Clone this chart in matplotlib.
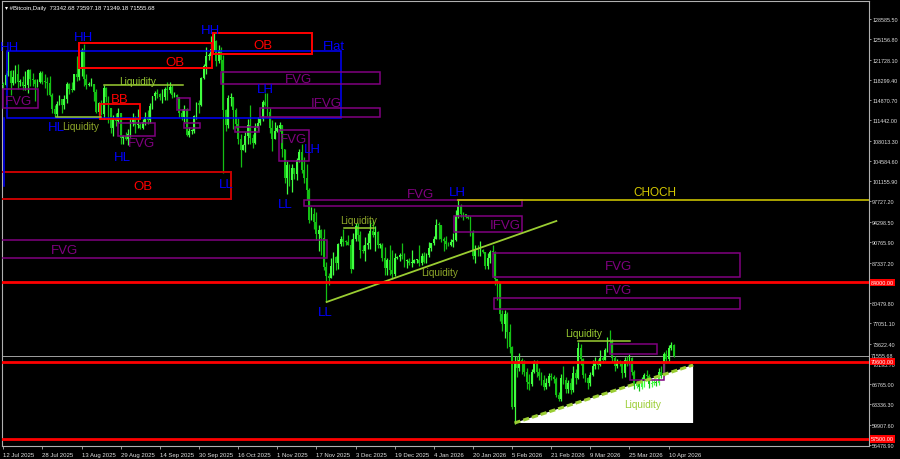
import numpy as np
import pandas as pd
from matplotlib import pyplot as plt
from matplotlib.patches import Rectangle, Polygon
import matplotlib.transforms as mtransforms

plt.rcParams['font.family'] = ['Liberation Sans', 'DejaVu Sans']

# daily bars, thousands of USD, 12 Jul 2025 .. 12 Apr 2026
first_open = 117.5
close_k = [
    117.4, 119.1, 119.8, 117.7, 118.7, 119.3, 117.9, 117.9, 117.3, 117.4, 119.9, 118.5, 118.3, 117.6, 117.9, 119.4, 118.0, 117.9, 117.8, 115.7,
    113.3, 112.5, 114.2, 115.0, 114.1, 115.0, 117.5, 116.7, 116.5, 119.3, 118.7, 120.2, 123.3, 118.4, 117.4, 117.5, 117.5, 116.3, 112.9, 114.3, 112.5, 116.9, 115.4, 113.5, 110.1, 111.8, 111.3, 112.6, 108.4, 108.8, 108.3,
    109.2, 111.2, 111.7, 110.7, 110.7, 110.2, 111.1, 112.0, 111.5, 113.9, 115.5, 116.1, 115.9, 115.3, 115.4, 116.8, 116.5, 117.1, 115.7, 115.7, 115.3, 112.7, 112.0, 113.3, 109.0, 109.7, 109.7, 112.1, 114.3, 114.0,
    118.6, 120.6, 122.3, 122.4, 123.5, 124.8, 121.5, 123.3, 121.7, 113.2, 110.6, 115.2, 115.3, 113.1, 110.8, 108.2, 106.4, 107.2, 108.7, 110.6, 108.5, 107.6, 110.1, 111.0, 111.6, 114.5, 114.1, 112.9, 110.1, 108.3, 109.6,
    110.1, 110.6, 106.5, 101.6, 103.9, 101.3, 103.4, 102.3, 104.7, 106.0, 103.1, 101.6, 99.7, 94.5, 95.6, 94.2, 92.2, 92.9, 91.5, 86.6, 85.1, 84.7, 86.8, 88.3, 87.3, 90.5, 91.3, 90.9, 90.8, 90.4,
    86.3, 91.3, 93.5, 92.1, 89.4, 89.3, 90.4, 90.6, 92.7, 92.0, 92.5, 90.3, 90.3, 88.2, 86.4, 87.8, 86.1, 85.5, 88.1, 88.3, 88.6, 88.5, 87.6, 87.6, 87.3, 87.3, 87.8, 87.8, 87.2, 88.4, 87.5,
    88.7, 89.9, 90.6, 91.4, 93.8, 93.7, 91.3, 91.0, 90.5, 90.4, 90.8, 91.2, 95.3, 97.0, 95.6, 95.5, 95.1, 94.9, 92.6, 88.4, 89.6, 89.4, 89.5, 89.2, 86.7, 88.2, 89.2, 89.1, 84.5, 84.1, 78.6,
    76.9, 78.7, 75.6, 73.0, 62.9, 70.5, 69.5, 70.8, 70.2, 68.8, 67.2, 66.8, 68.9, 70.4, 68.8, 68.2, 67.5, 66.3, 67.0, 68.1, 68.0, 67.6, 65.0, 64.3, 67.8, 67.4, 65.9, 66.9,
    65.8, 68.6, 67.9, 72.9, 71.0, 68.3, 67.9, 66.9, 68.3, 69.9, 70.5, 70.1, 71.2, 70.9, 72.5, 74.2, 74.0, 71.2, 69.9, 70.4, 70.2, 68.6, 70.9, 70.5, 71.2, 68.9, 66.4, 66.9, 66.3, 67.7, 68.3,
    68.1, 66.8, 66.9, 67.2, 66.9, 68.9, 68.3, 71.8, 71.0, 72.9, 73.34268, 71.55568,
]
high_k = [
    118.0, 119.5, 123.2, 119.9, 120.0, 120.8, 120.9, 118.5, 118.9, 119.7, 120.2, 120.1, 119.5, 118.4, 118.5, 119.8, 119.8, 119.3, 118.8, 118.9,
    116.1, 114.0, 114.7, 115.7, 115.1, 115.7, 117.9, 117.7, 117.9, 119.3, 122.3, 120.3, 123.7, 124.4, 119.2, 117.9, 118.6, 117.6, 116.8, 114.6, 114.8, 117.4, 117.0, 115.6, 113.6, 112.4, 112.6, 113.5, 112.7, 108.9, 109.5,
    109.9, 111.8, 112.6, 112.2, 113.4, 111.0, 111.6, 112.9, 113.2, 114.3, 115.6, 116.4, 116.8, 116.1, 116.8, 117.0, 117.9, 117.9, 117.4, 116.2, 115.9, 115.4, 113.3, 114.0, 113.6, 110.3, 110.0, 112.3, 114.5, 114.8,
    118.7, 121.0, 123.9, 122.9, 125.7, 126.2, 125.1, 124.2, 123.8, 122.5, 113.4, 115.8, 116.0, 115.4, 113.6, 111.9, 109.2, 107.5, 109.4, 111.7, 114.0, 109.1, 111.0, 112.0, 111.9, 114.9, 116.1, 116.0, 113.6, 111.5, 111.2,
    110.6, 111.2, 110.7, 106.6, 104.6, 104.1, 104.0, 103.4, 105.0, 106.6, 107.5, 105.3, 104.0, 99.9, 96.8, 96.6, 96.0, 93.8, 93.1, 93.0, 87.5, 85.6, 88.1, 89.2, 88.4, 90.6, 91.9, 93.0, 91.2, 92.0,
    91.4, 92.3, 94.1, 94.0, 92.7, 90.3, 91.7, 92.3, 94.6, 94.5, 93.5, 92.7, 90.6, 90.6, 90.0, 88.2, 90.3, 89.4, 89.0, 88.5, 89.0, 90.6, 88.9, 88.0, 88.1, 89.5, 88.0, 88.0, 90.3, 89.0, 89.2,
    88.9, 90.9, 90.7, 91.8, 94.8, 94.3, 93.7, 91.6, 91.9, 90.8, 91.3, 92.4, 96.2, 97.9, 97.2, 95.9, 95.5, 95.4, 95.3, 92.8, 90.4, 90.3, 91.0, 89.7, 89.2, 88.9, 89.4, 90.4, 89.3, 84.6, 84.0,
    79.3, 79.3, 79.0, 76.9, 73.3, 71.6, 71.5, 72.0, 71.2, 70.8, 69.5, 68.5, 69.4, 70.9, 70.8, 69.5, 68.9, 68.3, 67.8, 68.6, 68.7, 68.4, 68.0, 65.5, 68.5, 69.8, 68.0, 67.5,
    67.8, 69.9, 69.4, 73.9, 73.6, 71.2, 68.6, 68.0, 68.8, 70.8, 71.3, 71.0, 72.6, 71.6, 72.9, 74.8, 76.0, 74.4, 71.5, 71.0, 70.8, 70.6, 71.4, 71.5, 71.9, 71.4, 69.2, 67.3, 67.2, 68.0, 68.6,
    69.2, 68.5, 67.4, 67.6, 67.5, 69.5, 69.8, 72.3, 72.5, 73.4, 73.9, 73.59718,
]
low_k = [
    116.9, 117.3, 118.9, 115.7, 117.4, 117.8, 116.8, 117.3, 116.5, 116.5, 116.1, 117.3, 117.2, 114.7, 117.1, 117.8, 117.5, 116.9, 115.8, 115.6,
    112.7, 112.0, 112.0, 114.0, 112.7, 113.4, 114.3, 115.9, 116.3, 116.5, 118.1, 118.2, 118.9, 117.2, 116.8, 117.2, 117.3, 114.7, 112.7, 112.4, 112.4, 111.7, 114.6, 110.9, 109.3, 108.7, 110.4, 110.9, 107.5, 107.4, 108.1,
    107.3, 108.6, 110.5, 109.3, 110.2, 110.0, 110.0, 110.6, 110.8, 110.9, 113.4, 114.8, 115.2, 114.8, 114.4, 114.8, 114.8, 116.1, 115.2, 115.4, 115.1, 112.0, 111.5, 111.2, 108.7, 108.6, 109.2, 109.3, 111.6, 112.7,
    113.9, 118.4, 119.3, 121.6, 122.0, 123.1, 120.6, 121.1, 119.7, 102.5, 109.7, 110.1, 113.8, 109.9, 110.2, 107.5, 103.5, 106.4, 106.1, 107.5, 107.4, 106.7, 107.5, 109.7, 110.6, 111.3, 113.9, 112.1, 109.3, 106.3, 108.6,
    109.4, 109.6, 105.3, 100.8, 98.9, 100.3, 99.3, 101.5, 101.4, 104.3, 102.5, 100.8, 98.0, 94.0, 94.6, 93.0, 91.2, 89.3, 88.6, 86.1, 80.6, 83.5, 84.7, 85.3, 86.1, 86.3, 90.1, 90.2, 90.3, 90.3,
    85.6, 86.2, 91.0, 91.0, 88.1, 88.9, 87.7, 89.7, 89.6, 91.6, 89.3, 89.8, 89.8, 87.6, 85.2, 85.3, 85.3, 84.5, 85.1, 87.9, 87.6, 87.9, 86.6, 86.4, 86.9, 86.6, 87.2, 87.3, 86.7, 86.9, 87.2,
    87.2, 88.3, 89.3, 90.4, 91.3, 91.3, 90.8, 89.3, 89.6, 90.1, 90.2, 90.0, 91.0, 94.9, 95.0, 94.6, 94.9, 94.7, 91.9, 87.9, 87.3, 88.5, 88.4, 88.9, 86.2, 86.3, 87.3, 88.8, 83.5, 81.1, 77.5,
    75.7, 74.6, 72.9, 72.1, 62.5, 60.0, 68.0, 69.0, 68.5, 68.2, 66.0, 65.8, 66.4, 68.6, 68.0, 67.4, 66.7, 65.8, 65.9, 66.5, 67.5, 67.0, 64.6, 63.9, 64.0, 66.8, 65.2, 65.3,
    65.1, 65.5, 66.8, 67.6, 70.1, 67.8, 67.2, 66.0, 66.5, 68.1, 69.4, 69.3, 69.9, 70.4, 70.8, 72.3, 73.4, 70.6, 69.0, 69.5, 69.8, 67.9, 68.0, 69.8, 70.1, 68.4, 66.0, 66.1, 65.6, 65.9, 66.3,
    67.5, 66.2, 66.3, 66.6, 66.5, 66.7, 67.8, 68.2, 70.4, 70.6, 72.5, 71.34918,
]

price_ticks = [128585.50, 125156.80, 121728.10, 118299.40, 114870.70, 111442.00, 108013.30,
               104584.60, 101155.90, 97727.20, 94298.50, 90765.90, 87337.20, 80479.80,
               77051.10, 73622.40, 70193.70, 66765.00, 63336.30, 59907.60, 56478.90]
key_levels = [84000.00, 70600.00, 57500.00]
last_price = 71555.68
header = "\u25be #Bitcoin,Daily  73342.68 73597.18 71349.18 71555.68"

# zones: (first bar, last bar, low, high)
flat_box = (1.6, 138.0, 111828, 123169)
ob_boxes = [(31.0, 85.3, 120291, 124523), (85.7, 126.1, 122661, 126216)]
ob_low_box = (-1.0, 93.1, 98117, 102687)
bb_box = (39.6, 55.9, 111658, 114198)
fvg_boxes = [(0.0, 14.3, 113521, 116737), (89.0, 153.9, 117583, 119614),
             (104.9, 153.9, 111997, 113521), (94.7, 104.5, 109458, 110304),
             (46.9, 62.0, 108781, 110981), (71.0, 76.3, 113182, 115213),
             (73.9, 80.4, 110135, 110981), (112.7, 124.9, 104549, 109797),
             (-1.0, 132.2, 88130, 91177), (122.9, 212.2, 96931, 97947),
             (184.1, 212.2, 92531, 95239), (200.0, 301.2, 84914, 88976),
             (200.8, 301.2, 79498, 81360), (248.2, 267.3, 71881, 73573),
             (256.3, 270.2, 67480, 70357)]
liq_lines = [(21.6, 40.0, 111997), (41.2, 73.5, 117414), (139.2, 151.4, 93208), (235.1, 256.3, 74081)]
liq_trend = [(132.2, 80683), (226.1, 94393)]
liq_wedge = [(209.0, 60202), (282.0, 70019), (282.0, 60202)]
choch_start, choch_level = 186.1, 97947

# text labels: (text, bar, price, kind)
labels = [
    ("HH", 2.6, 123846, "blue"), ("HH", 32.7, 125539, "blue"), ("HH", 84.9, 126724, "blue"),
    ("HL", 21.6, 110304, "blue"), ("HL", 48.6, 105226, "blue"),
    ("LH", 107.0, 116737, "blue"), ("LH", 126.5, 106580, "blue"), ("LH", 185.7, 99301, "blue"),
    ("LL", 91.0, 100655, "blue"), ("LL", 115.1, 97270, "blue"), ("LL", 131.8, 78990, "blue"),
    ("Flat", 135.0, 124015, "blue"),
    ("OB", 70.2, 121307, "red"), ("OB", 106.1, 124185, "red"), ("OB", 57.1, 100317, "red"),
    ("BB", 47.8, 115044, "red"),
    ("FVG", 6.1, 114706, "purple"), ("FVG", 120.8, 118430, "purple"), ("IFVG", 132.2, 114367, "purple"),
    ("FVG", 56.7, 107596, "purple"), ("FVG", 118.8, 108273, "purple"), ("FVG", 24.9, 89484, "purple"),
    ("FVG", 170.6, 98963, "purple"), ("IFVG", 205.3, 93716, "purple"),
    ("FVG", 251.4, 86776, "purple"), ("FVG", 251.4, 82714, "purple"),
    ("CHOCH", 266.5, 99301, "yellow"),
    ("Liquidity", 31.8, 110474, "olive"), ("Liquidity", 55.1, 118091, "liq"),
    ("Liquidity", 145.3, 94562, "olive"), ("Liquidity", 178.4, 85760, "olive"),
    ("Liquidity", 237.1, 75435, "liq"), ("Liquidity", 261.2, 63418, "liq"),
]

colors = {"blue": "#0000ff", "red": "#ff0000", "purple": "#800080", "yellow": "#d4c800",
          "liq": "#9acd32", "olive": "#8fa82a"}
sizes = {"Liquidity": 7.2, "CHOCH": 8.5}

closes = np.array(close_k) * 1000
highs = np.array(high_k) * 1000
lows = np.array(low_k) * 1000
opens = np.concatenate([[first_open * 1000], closes[:-1]])
opens[-1] = 73342.68
dates = pd.date_range("2025-07-12", periods=len(closes), freq="D")
bars = np.arange(len(closes))

fig = plt.figure(figsize=(9, 4.6), dpi=100, facecolor="black")
ax = fig.add_axes([2 / 900, 13 / 460, 867 / 900, 445 / 460], facecolor="black")
ax.set_xlim(-0.5, 353.9)
ax.set_ylim(56307, 131632)

# candles
up = closes >= opens
col = np.where(up, "#40ff40", "#14c014")
ax.vlines(bars, np.minimum(lows, np.minimum(opens, closes)), np.maximum(highs, np.maximum(opens, closes)),
          colors=col, lw=0.9, zorder=3)
body = np.maximum(np.abs(closes - opens), 150)
ax.bar(bars, body, bottom=np.minimum(opens, closes), width=0.75, color=col, linewidth=0, zorder=3)


def box(z, color, lw=1.2):
    d0, d1, lo, hi = z
    ax.add_patch(Rectangle((d0, lo), d1 - d0, hi - lo, fill=False, ec=color, lw=lw, zorder=4))


box(flat_box, colors["blue"], 1.1)
for z in ob_boxes:
    box(z, colors["red"], 1.4)
box(ob_low_box, "#c80000", 1.4)
box(bb_box, colors["red"], 1.3)
for z in fvg_boxes:
    box(z, colors["purple"], 1.1)
ax.plot([0.3, 0.3], [100317, 111828], color=colors["blue"], lw=1.1, zorder=4)

for d0, d1, lvl in liq_lines:
    ax.plot([d0, d1], [lvl, lvl], color=colors["liq"], lw=1.1, zorder=4)
ax.plot(*zip(*liq_trend), color=colors["liq"], lw=1.3, zorder=4)
ax.add_patch(Polygon(liq_wedge, closed=True, fc="white", ec="none", zorder=2))
ax.plot(*zip(*liq_wedge[:2]), color=colors["liq"], lw=2.2, ls=(0, (2, 1)), zorder=4)

ax.plot([choch_start, 360], [choch_level, choch_level], color="#c8c000", lw=1.2, zorder=4)
for lvl in key_levels:
    ax.axhline(lvl, color="#ff0000", lw=2.0, zorder=5)
ax.axhline(last_price, color="#a0a0a0", lw=0.7, zorder=2)

for text, d, p, kind in labels:
    ax.text(d, p, text, color=colors[kind], fontsize=sizes.get(text, 9.5), ha="center", va="center", zorder=6)

ax.text(0.004, 0.986, header, transform=ax.transAxes, color="white", fontsize=4.3, ha="left", va="center")

# axes
for s in ax.spines.values():
    s.set_color("#b0b0b0")
    s.set_linewidth(0.8)
ax.yaxis.tick_right()
ax.set_yticks(price_ticks)
ax.set_yticklabels([f"{v:.2f}" for v in price_ticks])
xt = bars[::16]
ax.set_xticks(xt)
ax.set_xticklabels([f"{dates[i].day} {dates[i].strftime('%b %Y')}" for i in xt], ha="left")
ax.tick_params(colors="#b0b0b0", labelcolor="#e0e0e0", labelsize=4.3, length=2.5, width=0.6, pad=1.5)
ax.tick_params(axis="y", labelsize=3.9, length=1.5, pad=0.8)

trans = mtransforms.blended_transform_factory(ax.transAxes, ax.transData)
ax.text(1.0025, last_price, f"{last_price:.2f}", transform=trans, color="#e0e0e0", fontsize=3.9,
        ha="left", va="center", clip_on=False, zorder=8,
        bbox=dict(boxstyle="square,pad=0.15", fc="black", ec="none"))
for lvl in key_levels:
    ax.text(1.0025, lvl, f"{lvl:.2f}", transform=trans, color="white", fontsize=3.9, ha="left", va="center",
            clip_on=False, zorder=9, bbox=dict(boxstyle="square,pad=0.2", fc="#ff0000", ec="none"))

fig.savefig("out.png", dpi=100, facecolor="black")
